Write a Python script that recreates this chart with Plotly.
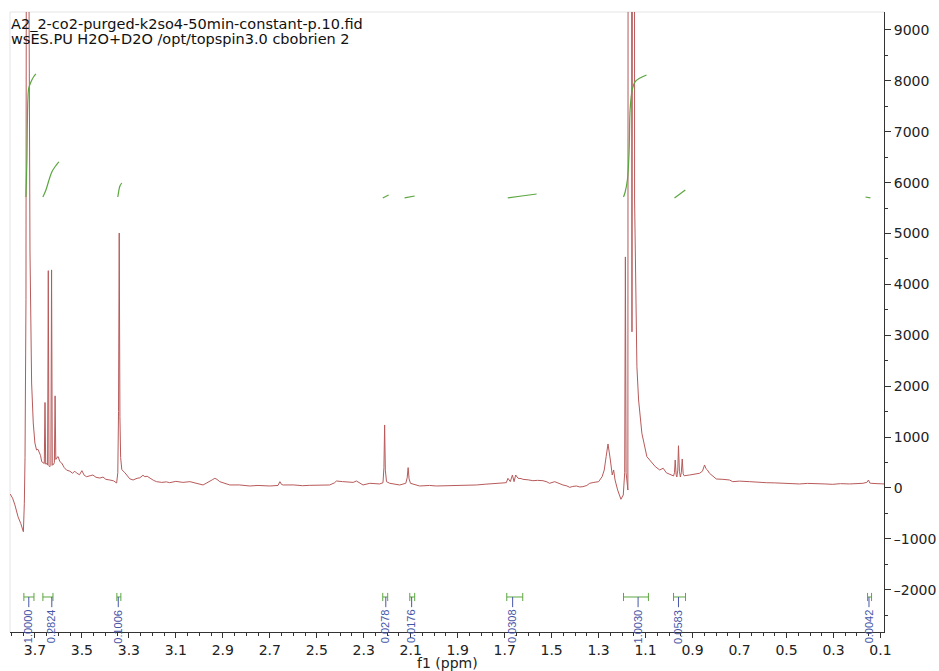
import plotly.graph_objects as go

# ---------------- data ----------------
title_line1 = "A2_2-co2-purged-k2so4-50min-constant-p.10.fid"
title_line2 = "wsES.PU H2O+D2O /opt/topspin3.0 cbobrien 2"
x_title = "f1 (ppm)"

y_tick_vals = [-2000, -1000, 0, 1000, 2000, 3000, 4000, 5000, 6000, 7000, 8000, 9000]
y_tick_text = ["–2000", "–1000", "0", "1000", "2000", "3000", "4000", "5000", "6000", "7000", "8000", "9000"]

# spectrum (ppm, intensity)
spec_ppm = [
    3.805, 3.795, 3.785, 3.772, 3.760, 3.749, 3.745, 3.742, 3.738, 3.735, 3.733, 3.730, 3.727,
    3.721, 3.714, 3.707, 3.700, 3.693, 3.687, 3.682, 3.676, 3.671, 3.665, 3.660, 3.657, 3.654,
    3.649, 3.646, 3.643, 3.640, 3.636, 3.632, 3.629, 3.626, 3.621, 3.617, 3.614, 3.611, 3.606,
    3.601, 3.594, 3.586, 3.575, 3.565, 3.551, 3.540, 3.530, 3.523, 3.510, 3.500, 3.490, 3.480,
    3.465, 3.453, 3.440, 3.423, 3.410, 3.398, 3.381, 3.365, 3.352, 3.347, 3.344, 3.341, 3.338,
    3.335, 3.330, 3.317, 3.296, 3.282, 3.265, 3.253, 3.240, 3.232, 3.222, 3.211, 3.195, 3.182,
    3.160, 3.140, 3.126, 3.100, 3.070, 3.040, 3.010, 2.984, 2.968, 2.955, 2.945, 2.934, 2.925,
    2.913, 2.890, 2.870, 2.830, 2.785, 2.750, 2.700, 2.665, 2.657, 2.650, 2.643, 2.600, 2.560,
    2.530, 2.480, 2.445, 2.425, 2.416, 2.390, 2.360, 2.345, 2.331, 2.315, 2.303, 2.274, 2.250,
    2.232, 2.218, 2.214, 2.211, 2.208, 2.203, 2.189, 2.147, 2.121, 2.115, 2.111, 2.107, 2.101,
    2.062, 2.020, 1.991, 1.950, 1.906, 1.860, 1.820, 1.780, 1.735, 1.700, 1.693, 1.686, 1.676,
    1.667, 1.660, 1.653, 1.643, 1.630, 1.622, 1.600, 1.580, 1.560, 1.537, 1.520, 1.509, 1.487,
    1.470, 1.452, 1.435, 1.423, 1.410, 1.395, 1.380, 1.367, 1.350, 1.338, 1.320, 1.300, 1.285,
    1.276, 1.268, 1.260, 1.250, 1.242, 1.236, 1.230, 1.219, 1.205, 1.195, 1.189, 1.186, 1.183,
    1.1755, 1.172, 1.166, 1.158, 1.153, 1.149, 1.1468, 1.1413, 1.1370, 1.1298, 1.1158, 1.0945,
    1.0588, 1.040, 1.025, 1.012, 0.991, 0.981, 0.977, 0.974, 0.970, 0.967, 0.963, 0.960, 0.956,
    0.952, 0.948, 0.944, 0.940, 0.936, 0.913, 0.891, 0.870, 0.858, 0.849, 0.843, 0.837, 0.828,
    0.815, 0.799, 0.771, 0.743, 0.729, 0.700, 0.657, 0.620, 0.586, 0.550, 0.516, 0.480, 0.445,
    0.410, 0.374, 0.340, 0.303, 0.270, 0.232, 0.200, 0.175, 0.158, 0.151, 0.146, 0.140, 0.115,
    0.090, 0.083,
]
spec_int = [
    -120, -200, -334, -563, -700, -860, -300, 600, 3700, 15000, 40000, 40000, 12000,
    4677, 2063, 1277, 884, 747, 760, 713, 640, 517, 485, 480, 1680, 470,
    480, 450, 4270, 430, 420, 440, 4285, 450, 460, 500, 1810, 560, 600,
    615, 520, 490, 400, 350, 330, 290, 330, 295, 260, 340, 250, 222,
    240, 255, 210, 195, 215, 170, 157, 140, 98, 300, 1500, 5010, 1400,
    600, 360, 300, 180, 157, 190, 200, 250, 222, 230, 190, 150, 124,
    110, 120, 104, 130, 110, 124, 95, 59, 100, 143, 160, 190, 170,
    124, 90, 59, 60, 39, 50, 39, 50, 124, 70, 59, 60, 45,
    52, 60, 59, 100, 137, 125, 124, 110, 137, 100, 59, 92, 85,
    79, 104, 400, 1238, 350, 124, 92, 59, 92, 200, 400, 180, 92,
    39, 50, 39, 45, 39, 55, 59, 75, 92, 100, 104, 190, 124,
    255, 124, 255, 190, 185, 170, 160, 143, 150, 143, 120, 92, 124,
    90, 59, 40, 13, 30, 39, 20, 26, 50, 92, 110, 124, 222,
    354, 615, 865, 550, 255, 354, 157, -39, -222, -138, 300, 4540, 300,
    -40, 40000, 40000, 3070, 40000, 40000, 5660, 3694, 2385, 1730, 1074, 615,
    420, 354, 387, 300, 255, 236, 300, 550, 260, 216, 350, 830, 330,
    216, 300, 570, 280, 240, 255, 275, 289, 330, 452, 380, 354, 289,
    230, 177, 170, 157, 124, 135, 124, 110, 104, 100, 92, 85, 79,
    90, 92, 80, 72, 85, 79, 85, 92, 110, 157, 100, 92, 85,
    79, 79,
]

# integral curves (green)
integral_ppm = [
    [3.738, 3.734, 3.730, 3.726, 3.717, 3.706, 3.696],
    [3.666, 3.653, 3.640, 3.628, 3.615, 3.598],
    [3.347, 3.343, 3.338, 3.330],
    [2.219, 2.194],
    [2.126, 2.083],
    [1.687, 1.628, 1.564],
    [1.194, 1.187, 1.177, 1.170, 1.166, 1.157, 1.145, 1.124, 1.096],
    [0.977, 0.931],
    [0.164, 0.143],
]
integral_val = [
    [5718, 6445, 7624, 7860, 7978, 8076, 8135],
    [5718, 5856, 6052, 6209, 6307, 6406],
    [5718, 5835, 5934, 5993],
    [5699, 5757],
    [5699, 5738],
    [5699, 5738, 5777],
    [5718, 5816, 6071, 6642, 7428, 7821, 7978, 8056, 8115],
    [5699, 5856],
    [5718, 5699],
]

# integration regions and labels
region_start = [3.747, 3.666, 3.351, 2.219, 2.104, 1.691, 1.194, 0.981, 0.155]
region_end = [3.704, 3.623, 3.334, 2.198, 2.083, 1.623, 1.088, 0.930, 0.138]
label_ppm = [3.726, 3.628, 3.345, 2.206, 2.096, 1.666, 1.132, 0.960, 0.149]
label_text = ["1.0000", "0.2824", "0.1006", "0.0278", "0.0176", "0.0308", "1.0030", "0.0583", "0.0042"]

# ---------------- figure ----------------
SPEC_COLOR = "#b85a5a"
INT_COLOR = "#5ca640"
LABEL_COLOR = "#4656a8"
FONT = "DejaVu Sans"

fig = go.Figure()
fig.add_trace(go.Scatter(x=spec_ppm, y=spec_int, mode="lines",
                         line=dict(color=SPEC_COLOR, width=1), hoverinfo="skip"))
for xs, ys in zip(integral_ppm, integral_val):
    fig.add_trace(go.Scatter(x=xs, y=ys, mode="lines", line=dict(color=INT_COLOR, width=1.2, shape="spline"),
                             hoverinfo="skip"))

BR_Y = -2142
CAP = 80
shapes = []
annotations = []
for s, e, lp, txt in zip(region_start, region_end, label_ppm, label_text):
    shapes.append(dict(type="line", xref="x", yref="y", x0=s, x1=e, y0=BR_Y, y1=BR_Y,
                       line=dict(color=INT_COLOR, width=1)))
    for xx in (s, e):
        shapes.append(dict(type="line", xref="x", yref="y", x0=xx, x1=xx, y0=BR_Y - CAP, y1=BR_Y + CAP,
                           line=dict(color=INT_COLOR, width=1)))
    shapes.append(dict(type="line", xref="x", yref="y", x0=lp, x1=lp, y0=BR_Y, y1=BR_Y - 200,
                       line=dict(color=LABEL_COLOR, width=1)))
    annotations.append(dict(x=lp, y=-2720, xref="x", yref="y", text=txt, textangle=-90,
                            showarrow=False, xanchor="center", yanchor="middle",
                            font=dict(family="Liberation Sans", size=11, color=LABEL_COLOR)))

# faint frame on top/left
shapes.append(dict(type="line", xref="paper", yref="paper", x0=0, x1=1, y0=1, y1=1,
                   line=dict(color="#e4e4e4", width=1), layer="below"))
shapes.append(dict(type="line", xref="paper", yref="paper", x0=0, x1=0, y0=0, y1=1,
                   line=dict(color="#e4e4e4", width=1), layer="below"))

annotations.append(dict(x=0, y=(632 - 24) / 620, xref="paper", yref="paper", text=title_line1,
                        showarrow=False, xanchor="left", yanchor="middle", xshift=-1,
                        font=dict(family=FONT, size=14.5, color="#111")))
annotations.append(dict(x=0, y=(632 - 39) / 620, xref="paper", yref="paper", text=title_line2,
                        showarrow=False, xanchor="left", yanchor="middle", xshift=-1,
                        font=dict(family=FONT, size=14.5, color="#111")))
annotations.append(dict(x=0.5, y=(632 - 663) / 620, xref="paper", yref="paper", text=x_title,
                        showarrow=False, xanchor="center", yanchor="middle",
                        font=dict(family=FONT, size=14, color="#222")))

fig.update_layout(
    width=939, height=671,
    margin=dict(l=10, r=55, t=12, b=39, pad=0, autoexpand=False),
    paper_bgcolor="white", plot_bgcolor="white",
    showlegend=False,
    shapes=shapes, annotations=annotations,
    xaxis=dict(range=[3.806, 0.085], tick0=0.1, dtick=0.2, tickformat=".1f",
               ticks="outside", ticklen=5, tickcolor="#333", tickwidth=1,
               showline=True, linecolor="#333", linewidth=1,
               minor=dict(dtick=0.05, tick0=0.1, ticks="outside", ticklen=3, tickcolor="#333"),
               showgrid=False, zeroline=False, automargin=False,
               tickfont=dict(family=FONT, size=14, color="#222")),
    yaxis=dict(range=[-2830, 9353], side="right", tickmode="array",
               tickvals=y_tick_vals, ticktext=y_tick_text,
               ticks="outside", ticklen=6, tickcolor="#333", tickwidth=1,
               showline=True, linecolor="#333", linewidth=1,
               minor=dict(dtick=500, tick0=0, ticks="outside", ticklen=3, tickcolor="#333"),
               showgrid=False, zeroline=False, automargin=False,
               tickfont=dict(family=FONT, size=14, color="#222")),
)

fig.write_html("out.html", config={"displayModeBar": False},
               post_script="document.body.style.margin='0';document.body.style.overflow='hidden';")
